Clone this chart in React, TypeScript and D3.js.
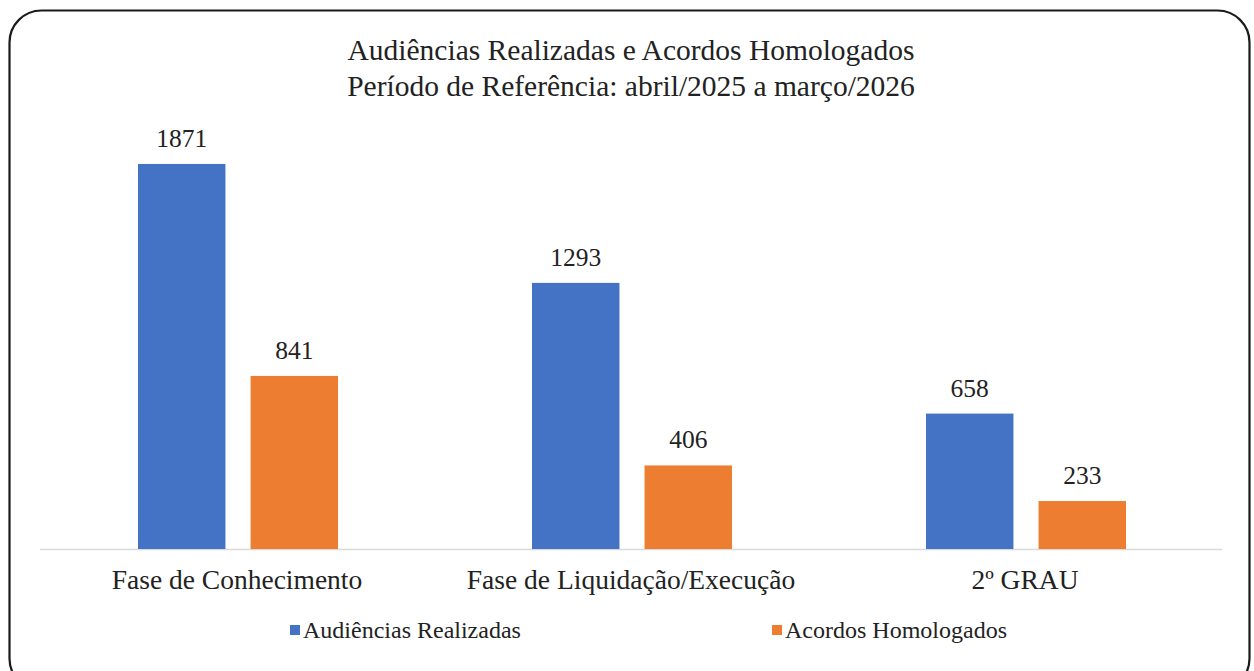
import React from "react";
import * as d3 from "d3";

const categories = ["Fase de Conhecimento", "Fase de Liquidação/Execução", "2º GRAU"];
const seriesNames = ["Audiências Realizadas", "Acordos Homologados"];
const audiencias = [1871, 1293, 658];
const acordos = [841, 406, 233];
const colors = ["#4472C4", "#ED7D31"];
const titleLines = ["Audiências Realizadas e Acordos Homologados", "Período de Referência: abril/2025 a março/2026"];

const W = 1254;
const H = 671;
const font = "'Liberation Serif', Tinos, 'DejaVu Serif', 'Noto Serif', 'Times New Roman', Times, serif";

export default function App() {
  const x0 = d3.scaleBand<string>().domain(categories).range([40, 1222]).paddingInner(0).paddingOuter(0);
  const x1 = d3.scaleBand<string>().domain(seriesNames).range([98, 298]).paddingInner(0.223).paddingOuter(0);
  const y = d3.scaleLinear().domain([0, 2000]).range([549, 137.4]);
  const seriesVals = [audiencias, acordos];
  const legendX = [290, 772];

  return (
    <svg width={W} height={H} style={{ position: "absolute", left: 0, top: 0, fontFamily: font }}>
      <rect x={0} y={0} width={W} height={H} fill="#fff" />
      <rect x={9.5} y={10.5} width={1240} height={680} rx={32} ry={32} fill="#fff" stroke="#1a1a1a" strokeWidth={2.2} />
      {titleLines.map((t, i) => (
        <text key={i} x={631} y={60 + i * 36} textAnchor="middle" style={{ fontFamily: font }} fontSize={29.5} fill="#222">
          {t}
        </text>
      ))}
      <line x1={40} x2={1222} y1={y(0) + 0.5} y2={y(0) + 0.5} stroke="#d9d9d9" strokeWidth={1.5} />
      {categories.map((c, ci) => (
        <g key={c} transform={`translate(${x0(c)},0)`}>
          {seriesNames.map((s, si) => {
            const v = seriesVals[si][ci];
            const bx = x1(s)!;
            return (
              <g key={s}>
                <rect x={bx} y={y(v)} width={x1.bandwidth()} height={y(0) - y(v)} fill={colors[si]} />
                <text x={bx + x1.bandwidth() / 2} y={y(v) - 17} textAnchor="middle" style={{ fontFamily: font }} fontSize={25.5} fill="#222">
                  {v}
                </text>
              </g>
            );
          })}
          <text x={x0.bandwidth() / 2} y={589} textAnchor="middle" style={{ fontFamily: font }} fontSize={27.5} fill="#222">
            {c}
          </text>
        </g>
      ))}
      {seriesNames.map((s, i) => {
        const lx = legendX[i];
        return (
          <g key={s}>
            <rect x={lx} y={625} width={10} height={10} fill={colors[i]} />
            <text x={lx + 13} y={638} style={{ fontFamily: font }} fontSize={24} fill="#222">
              {s}
            </text>
          </g>
        );
      })}
    </svg>
  );
}
